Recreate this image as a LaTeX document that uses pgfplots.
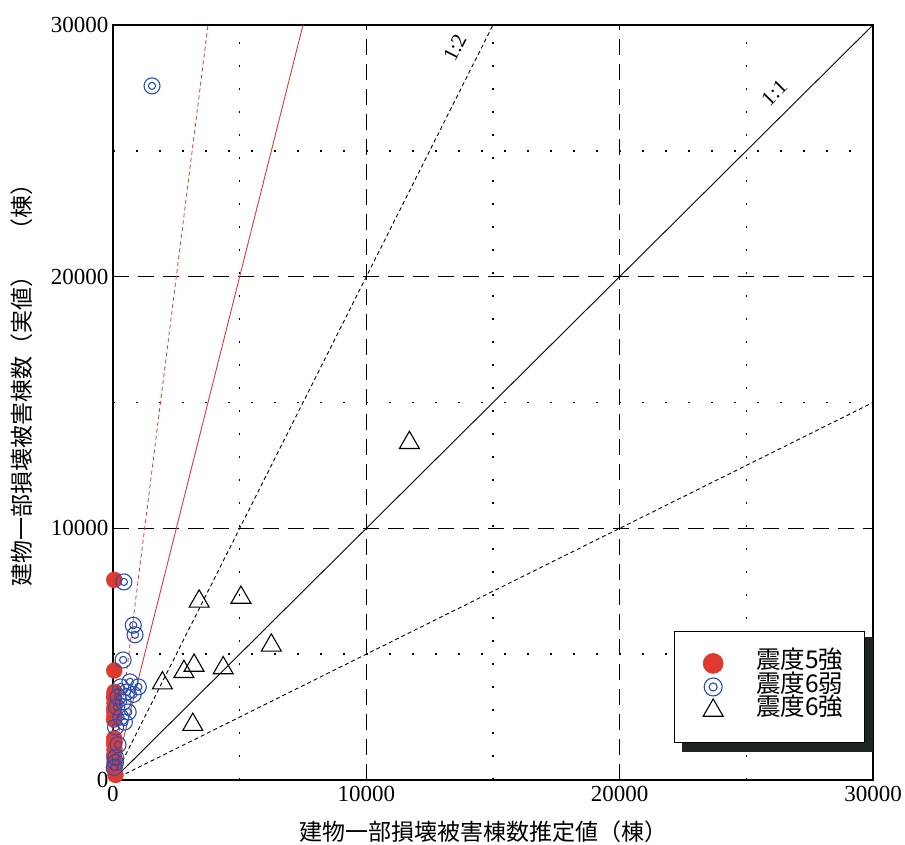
\documentclass[border=0pt]{standalone}
\usepackage{pgfplots}
\pgfplotsset{compat=1.18}
\usepackage{fontspec}
\setmainfont{Liberation Serif}
\newfontfamily\cjk{Noto Sans CJK JP}
\definecolor{mred}{RGB}{222,58,48}
\definecolor{mblue}{RGB}{40,80,180}
\definecolor{shadow}{RGB}{30,36,33}
\pgfdeclareplotmark{dcirc}{%
  \pgfpathcircle{\pgfpointorigin}{\pgfplotmarksize}%
  \pgfusepathqstroke
  \pgfpathcircle{\pgfpointorigin}{0.45\pgfplotmarksize}%
  \pgfusepathqstroke}
\pgfplotsset{legimg/.style={legend image code/.code={\path[draw=none,fill=none] (-18pt,-9pt) rectangle (10pt,9pt); \draw[##1] plot coordinates {(0pt,0pt)};}}}
\begin{document}
\begin{tikzpicture}
\useasboundingbox (-113pt,-65pt) rectangle (792pt,780pt);
\begin{axis}[
  scale only axis, width=760pt, height=755pt,
  xmin=0, xmax=30000, ymin=0, ymax=30000,
  scaled ticks=false,
  xtick={0,10000,20000,30000}, ytick={0,10000,20000,30000},
  xticklabels={0,10000,20000,30000}, yticklabels={0,10000,20000,30000},
  minor xtick={5000,15000,25000}, minor ytick={5000,15000,25000},
  major tick length=0pt, minor tick length=0pt,
  grid=both,
  major grid style={black, line width=0.8pt, dash pattern=on 16pt off 9pt},
  minor grid style={black, line width=1.6pt, dash pattern=on 1.6pt off 21.4pt},
  axis line style={black, line width=1.2pt},
  /pgf/number format/assume math mode=true,
  tick label style={font=\fontsize{23}{25}\selectfont},
  xticklabel style={yshift=-3pt},
  yticklabel style={xshift=-1pt},
  xlabel={\cjk 建物一部損壊被害棟数推定値（棟）},
  ylabel={\cjk 建物一部損壊被害棟数（実値）\hspace{1em}（棟）},
  label style={font=\fontsize{23}{25}\selectfont},
  xlabel style={at={(axis description cs:0.488,-0.069)}, anchor=center},
  ylabel style={at={(axis description cs:-0.12,0.53)}, anchor=center, rotate=0},
  legend style={at={(axis description cs:0.738,0.049)}, anchor=south west,
    draw=black, line width=0.6pt, fill=white,
    inner xsep=21pt, inner ysep=20.5pt,
    font=\cjk\fontsize{24.5}{25}\selectfont, row sep=0pt,
    nodes={inner sep=0pt, text height=17pt, text depth=6.5pt}},
  legend cell align=left,
  /tikz/every odd column/.append style={column sep=33pt},
]
% legend shadow
\fill[shadow] (axis description cs:0.749,0.037) rectangle (axis description cs:1.0,0.189);
% reference lines
\addplot[black, line width=0.9pt, forget plot] coordinates {(0,0) (30000,30000)};
\addplot[black, line width=0.9pt, dash pattern=on 4pt off 3pt, forget plot] coordinates {(0,0) (15000,30000)};
\addplot[black, line width=0.9pt, dash pattern=on 4pt off 3pt, forget plot] coordinates {(0,0) (30000,15000)};
\addplot[mred, line width=0.9pt, forget plot] coordinates {(0,0) (7500,30000)};
\addplot[mred, line width=0.8pt, dash pattern=on 4pt off 3pt, forget plot] coordinates {(0,0) (3750,30000)};
% 震度5強
\addplot[only marks, mark=*, mark size=8pt, color=mred, fill=mred, forget plot] coordinates {
(50,7950) (50,4350) (60,3500) (40,3300) (60,3050) (40,2800) (60,2600) (40,2400)
(50,1650) (40,1450) (60,1200) (40,950) (60,700) (50,450) (100,200)
};
% 震度6弱
\addplot[only marks, mark=dcirc, mark size=8pt, color=mblue, line width=1.1pt, forget plot] coordinates {
(1540,27580) (430,7870) (800,6150) (870,5770) (400,4770) (670,3900) (1000,3700)
(300,3700) (550,3500) (800,3400) (200,3300) (400,3100) (150,2900) (600,2700)
(300,2500) (450,2300) (100,2100) (200,1400) (100,900) (100,700) (50,500)
};
% 震度6強
\addplot[only marks, mark=triangle, mark size=11.5pt, color=black, line width=1.1pt, forget plot] coordinates {
(11700,13400) (5050,7250) (3400,7100) (6250,5350) (4350,4450) (3200,4550) (2800,4300) (1950,3850) (3150,2200)
};
\addlegendimage{only marks, mark=*, mark size=10pt, color=mred, fill=mred, legimg}
\addlegendentry{震度5強}
\addlegendimage{only marks, mark=dcirc, mark size=9pt, color=mblue, line width=1.1pt, legimg}
\addlegendentry{震度6弱}
\addlegendimage{only marks, mark=triangle, mark size=11.5pt, color=black, line width=1.1pt, legimg}
\addlegendentry{震度6強}
\node[rotate=45, font=\fontsize{21}{23}\selectfont] at (axis cs:26100,27300) {1:1};
\node[rotate=63, font=\fontsize{21}{23}\selectfont] at (axis cs:13500,29100) {1:2};
\end{axis}
\end{tikzpicture}
\end{document}
